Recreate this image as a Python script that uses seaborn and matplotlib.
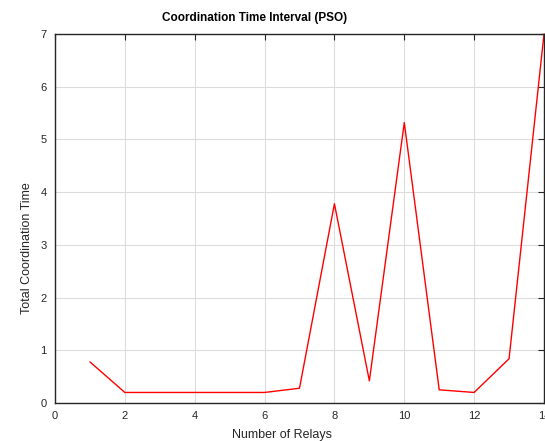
import matplotlib
matplotlib.use("Agg")
import matplotlib.pyplot as plt
import seaborn as sns
import pandas as pd

relays = [1, 2, 3, 4, 5, 6, 7, 8, 9, 10, 11, 12, 13, 14]
coord_time = [0.78, 0.2, 0.2, 0.2, 0.2, 0.2, 0.28, 3.78, 0.42, 5.32, 0.25, 0.2, 0.84, 7.0]

df = pd.DataFrame({"Number of Relays": relays, "Total Coordination Time": coord_time})

sns.set_style("whitegrid")
plt.rcParams['font.family'] = ['Liberation Sans', 'DejaVu Sans']

W, H = 545, 441
fig = plt.figure(figsize=(W / 100, H / 100), dpi=100)
ax = fig.add_axes([55 / W, 38 / H, 489 / W, 369 / H])

sns.lineplot(data=df, x="Number of Relays", y="Total Coordination Time",
             color="red", linewidth=1.0, ax=ax, clip_on=False)

ax.set_xlim(0, 14)
ax.set_ylim(0, 7)
ax.set_xticks(range(0, 15, 2))
ax.set_yticks(range(0, 8))

ax.grid(True, color="#dcdcdc", linewidth=0.8)
for s in ax.spines.values():
    s.set_color("#262626")
    s.set_linewidth(1.0)
ax.tick_params(direction="in", length=4, width=0.8, color="#262626",
               top=True, right=True, labelsize=8, labelcolor="#262626", pad=6)

# title and axis labels are offset from the axes centre in the original
ax.set_xlabel("")
ax.set_ylabel("")
fig.text(255 / W, 1 - 18 / H, "Coordination Time Interval (PSO)", fontsize=8.5,
         fontweight="bold", ha="center", va="center", color="black")
fig.text(282 / W, 1 - 435 / H, "Number of Relays", fontsize=9,
         ha="center", va="center", color="#262626")
fig.text(27 / W, 1 - 248 / H, "Total Coordination Time", fontsize=9,
         ha="center", va="center", rotation=90, color="#262626")

fig.savefig("out.png", dpi=100)
